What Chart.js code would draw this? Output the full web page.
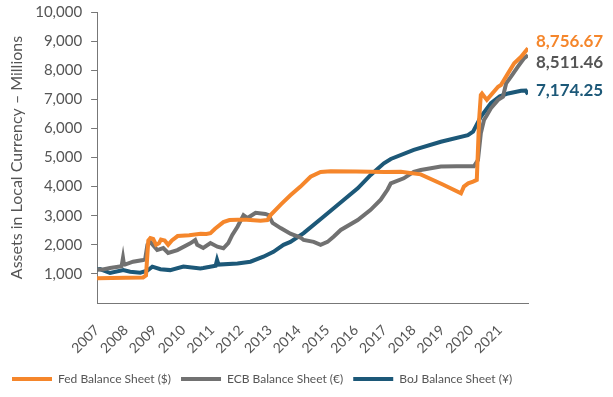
<!DOCTYPE html>
<html>
<head>
<meta charset="utf-8">
<script src="https://cdn.jsdelivr.net/npm/chart.js@4.4.0/dist/chart.umd.min.js"></script>
<style>
  html, body { margin: 0; padding: 0; background: #fff; }
</style>
</head>
<body>
<canvas id="chart" width="613" height="397"></canvas>
<script>
// values (years as decimals, local currency millions)
const seriesNames = ['Fed Balance Sheet ($)', 'ECB Balance Sheet (€)', 'BoJ Balance Sheet (¥)'];
const seriesColors = ['#F5862B', '#717171', '#1C5878'];
const labelColors = ['#F5862B', '#555555', '#1C5878'];
const labelShift = [-7, 7, -4];

const fedYears = [2007.0, 2007.5, 2008.0, 2008.6, 2008.7, 2008.78, 2008.85, 2008.95, 2009.05, 2009.15,
  2009.22, 2009.35, 2009.47, 2009.6, 2009.8, 2010.2, 2010.6, 2010.8, 2010.94, 2011.1,
  2011.39, 2011.6, 2011.88, 2012.2, 2012.68, 2012.92, 2013.03, 2013.4, 2013.72, 2014.07,
  2014.42, 2014.77, 2015.12, 2016.0, 2017.0, 2017.56, 2018.25, 2019.0, 2019.65, 2019.75,
  2019.9, 2020.07, 2020.2, 2020.28, 2020.34, 2020.38, 2020.55, 2020.94, 2021.04, 2021.29,
  2021.5, 2021.74, 2021.98];
const fedValues = [850, 860, 870, 880, 950, 2150, 2230, 2200, 2000, 2050,
  2180, 2150, 2000, 2150, 2300, 2330, 2380, 2370, 2400, 2550,
  2780, 2850, 2860, 2860, 2830, 2850, 3020, 3400, 3700, 4000,
  4340, 4500, 4530, 4520, 4500, 4510, 4420, 4080, 3770, 4000,
  4110, 4170, 4230, 6290, 7150, 7200, 6980, 7430, 7490, 7900,
  8240, 8460, 8756.67];

const ecbYears = [2007.0, 2007.2, 2007.45, 2007.85, 2007.9, 2007.93, 2007.97, 2008.25, 2008.6, 2008.67,
  2008.75, 2008.85, 2009.09, 2009.3, 2009.47, 2009.79, 2010.24, 2010.41, 2010.48, 2010.69,
  2010.94, 2011.18, 2011.39, 2011.56, 2011.7, 2011.88, 2012.09, 2012.23, 2012.51, 2012.85,
  2012.96, 2013.1, 2013.38, 2013.72, 2014.07, 2014.18, 2014.53, 2014.77, 2015.01, 2015.22,
  2015.47, 2016.06, 2016.51, 2016.86, 2017.1, 2017.21, 2017.66, 2018.01, 2018.25, 2018.95,
  2019.5, 2020.1, 2020.24, 2020.34, 2020.45, 2020.52, 2020.69, 2020.94, 2021.11, 2021.22,
  2021.39, 2021.63, 2021.84, 2021.98];
const ecbValues = [1150, 1150, 1200, 1260, 1550, 1350, 1320, 1420, 1480, 1500,
  2000, 2100, 1820, 1890, 1720, 1820, 2050, 2165, 2000, 1890,
  2060, 1935, 1880, 2060, 2340, 2620, 3020, 2920, 3100, 3060,
  3020, 2750, 2575, 2380, 2250, 2165, 2100, 2000, 2100, 2280,
  2510, 2850, 3200, 3550, 3900, 4110, 4285, 4510, 4570, 4690,
  4700, 4700, 4910, 5830, 6290, 6400, 6690, 6980, 7090, 7550,
  7780, 8120, 8410, 8511.46];

const bojYears = [2007.0, 2007.1, 2007.45, 2007.91, 2008.15, 2008.5, 2008.74, 2008.92, 2009.2, 2009.54,
  2010.0, 2010.59, 2010.69, 2011.12, 2011.17, 2011.22, 2011.88, 2012.33, 2012.78, 2013.13,
  2013.48, 2013.72, 2014.18, 2014.87, 2015.57, 2016.06, 2016.51, 2016.97, 2017.21, 2018.01,
  2018.95, 2019.89, 2020.07, 2020.34, 2020.69, 2021.0, 2021.29, 2021.74, 2021.9, 2021.98];
const bojValues = [1150, 1165, 1030, 1130, 1075, 1040, 1110, 1250, 1160, 1130,
  1250, 1190, 1200, 1280, 1480, 1320, 1360, 1420, 1590, 1760,
  2000, 2100, 2400, 2965, 3540, 3940, 4400, 4800, 4950, 5260,
  5540, 5770, 5890, 6400, 6870, 7100, 7200, 7290, 7300, 7174.25];

const yearTicks = [2007, 2008, 2009, 2010, 2011, 2012, 2013, 2014, 2015, 2016, 2017, 2018, 2019, 2020, 2021];

const allYears = [fedYears, ecbYears, bojYears];
const allValues = [fedValues, ecbValues, bojValues];

const endLabels = {
  id: 'endLabels',
  afterDatasetsDraw(chart) {
    const { ctx, chartArea, scales } = chart;
    ctx.save();
    ctx.font = 'bold 17px Lato';
    ctx.textBaseline = 'middle';
    ctx.textAlign = 'left';
    chart.data.datasets.forEach((ds, i) => {
      const last = ds.data[ds.data.length - 1].y;
      const y = scales.y.getPixelForValue(last) + labelShift[i];
      ctx.fillStyle = labelColors[i];
      ctx.fillText(last.toLocaleString('en-US', { minimumFractionDigits: 2 }), chartArea.right + 8, y);
    });
    ctx.restore();
  }
};

const datasets = seriesNames.map((name, i) => ({
  label: name,
  data: allYears[i].map((x, j) => ({ x: x, y: allValues[i][j] })),
  borderColor: seriesColors[i],
  backgroundColor: seriesColors[i],
  borderWidth: 4,
  pointRadius: 0,
  tension: 0
}));

new Chart(document.getElementById('chart').getContext('2d'), {
  type: 'line',
  data: { datasets: datasets },
  options: {
    responsive: false,
    animation: false,
    layout: { padding: { top: 0, right: 85, left: 2, bottom: 2 } },
    scales: {
      x: {
        type: 'linear',
        min: 2007,
        max: 2021.98,
        afterBuildTicks: axis => { axis.ticks = yearTicks.map(v => ({ value: v })); },
        afterFit: axis => { axis.height = 60; },
        ticks: {
          minRotation: 45,
          maxRotation: 45,
          padding: 11,
          color: '#555555',
          font: { family: 'Lato', size: 14 },
          callback: v => String(v)
        },
        grid: { display: false },
        border: { display: true, color: '#777777', width: 1 }
      },
      y: {
        min: 0,
        max: 10000,
        afterFit: axis => { axis.paddingTop = 12; },
        ticks: {
          stepSize: 1000,
          color: '#555555',
          font: { family: 'Lato', size: 15 },
          padding: 9,
          callback: v => (v === 0 ? null : v.toLocaleString('en-US'))
        },
        grid: { display: true, drawOnChartArea: false, drawTicks: true, tickLength: 6, color: '#777777' },
        border: { display: true, color: '#777777', width: 1 },
        title: {
          display: true,
          text: 'Assets in Local Currency – Millions',
          color: '#555555',
          font: { family: 'Lato', size: 16 },
          padding: { top: 5, bottom: 0 }
        }
      }
    },
    plugins: {
      tooltip: { enabled: false },
      legend: {
        position: 'bottom',
        align: 'start',
        labels: {
          boxWidth: 40,
          boxHeight: 4,
          padding: 10,
          color: '#555555',
          font: { family: 'Lato', size: 12 },
          generateLabels: chart => Chart.defaults.plugins.legend.labels.generateLabels(chart).map(item => {
            item.lineWidth = 0;
            item.fillStyle = seriesColors[item.datasetIndex];
            return item;
          })
        }
      }
    }
  },
  plugins: [endLabels]
});
</script>
</body>
</html>
